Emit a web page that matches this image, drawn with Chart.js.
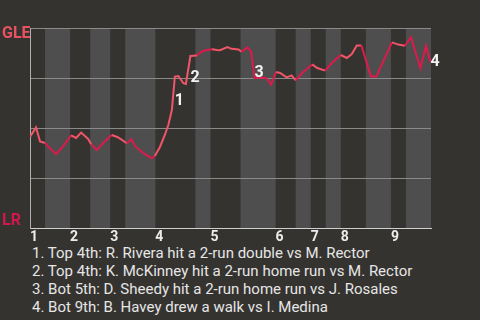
<!DOCTYPE html>
<html>
<head>
<meta charset="utf-8">
<script src="https://cdn.jsdelivr.net/npm/chart.js@4"></script>
<style>
  html, body { margin: 0; padding: 0; background: #353330; width: 480px; height: 320px; overflow: hidden; }
  #wrap { position: relative; width: 480px; height: 244px; }
  #notas { font: 15px Roboto, sans-serif; color: #e6e6e6; line-height: 18px; padding-left: 32px; }
</style>
</head>
<body>
<div id="wrap"><canvas id="graficoWP"></canvas></div>
<div id="notas"></div>
<script>
// limites de cada media entrada, en jugadas (alta, baja, alta, baja...)
const mediasEntradas = [0, 3, 8, 12, 16, 19, 25, 33, 36, 42, 49, 53, 56, 59, 62, 67, 72, 75, 80];
const entradas = ["1", "2", "3", "4", "5", "6", "7", "8", "9"];

// jugada y probabilidad de victoria de GLE
const jugadas = [
  0, 1.2, 2.0, 3.0, 4.0, 5.2, 6.6, 8.2, 9.2, 10.2, 11.6, 12.2, 13.3, 14.8, 16.3, 17.4,
  18.2, 19.3, 20.2, 21.0, 22.7, 24.3, 24.9, 25.9, 26.9, 27.6, 28.3, 28.9, 29.6, 30.6,
  31.1, 32.0, 33.3, 34.3, 35.3, 36.3, 37.3, 37.9, 39.4, 40.2, 41.6, 42.2, 43.4, 44.1,
  44.8, 45.7, 47.1, 48.1, 49.1, 49.9, 51.2, 52.2, 53.0, 54.3, 56.3, 57.3, 58.9, 60.2,
  62.0, 63.2, 64.2, 65.2, 66.1, 68.0, 69.1, 72.2, 73.5, 74.8, 76.0, 77.9, 79.0, 79.9
];
const probGLE = [
  0.455, 0.503, 0.433, 0.425, 0.398, 0.37, 0.408, 0.463, 0.45, 0.477, 0.445, 0.419, 0.39, 0.43, 0.465, 0.455,
  0.443, 0.424, 0.444, 0.408, 0.373, 0.349, 0.36, 0.404, 0.465, 0.515, 0.59, 0.757, 0.76, 0.724,
  0.72, 0.86, 0.863, 0.883, 0.89, 0.894, 0.89, 0.889, 0.905, 0.896, 0.893, 0.881, 0.903, 0.883,
  0.749, 0.753, 0.75, 0.718, 0.78, 0.775, 0.753, 0.763, 0.738, 0.775, 0.818, 0.8, 0.787, 0.825,
  0.865, 0.85, 0.87, 0.913, 0.913, 0.758, 0.758, 0.928, 0.917, 0.911, 0.954, 0.799, 0.91, 0.83
];

// jugadas destacadas (indice en las series) y sus textos
const destacadas = [27, 31, 44, 71];
const notas = [
  "1. Top 4th: R. Rivera hit a 2-run double vs M. Rector",
  "2. Top 4th: K. McKinney hit a 2-run home run vs M. Rector",
  "3. Bot 5th: D. Sheedy hit a 2-run home run vs J. Rosales",
  "4. Bot 9th: B. Havey drew a walk vs I. Medina",
];

document.getElementById("notas").innerHTML = notas.map((n) => "<div>" + n + "</div>").join("");

const inicioEntradas = mediasEntradas.filter((v, i) => i % 2 === 0 && i < mediasEntradas.length - 1);

function mediaDe(x) {
  let h = 0;
  while (h < mediasEntradas.length - 2 && x >= mediasEntradas[h + 1]) h++;
  return h;
}

const bandas = {
  id: "bandas",
  beforeDraw(chart) {
    const { ctx, chartArea: a, scales: { x } } = chart;
    ctx.save();
    ctx.fillStyle = "#4e4e4e";
    for (let h = 1; h < mediasEntradas.length - 1; h += 2) {
      const x0 = x.getPixelForValue(mediasEntradas[h]);
      const x1 = x.getPixelForValue(mediasEntradas[h + 1]);
      ctx.fillRect(x0, a.top, x1 - x0, a.bottom - a.top);
    }
    ctx.restore();
  },
};

const marcas = {
  id: "marcas",
  afterDatasetsDraw(chart) {
    const { ctx } = chart;
    const pts = chart.getDatasetMeta(0).data;
    ctx.save();
    ctx.fillStyle = "#f2f2f2";
    ctx.font = "bold 16px Roboto";
    ctx.textAlign = "left";
    ctx.textBaseline = "top";
    destacadas.forEach((i, n) => {
      const p = pts[i];
      const q = pts[i - 1];
      ctx.fillText(String(n + 1), p.x, (p.y + q.y) / 2);
    });
    ctx.restore();
  },
};

const ctxWP = document.getElementById("graficoWP");

new Chart(ctxWP, {
  type: "line",
  data: {
    datasets: [
      {
        data: jugadas.map((x, i) => ({ x: x, y: probGLE[i] })),
        borderColor: "#ef5668",
        borderWidth: 2,
        pointRadius: 0,
        tension: 0,
        segment: {
          borderColor: (c) =>
            mediaDe((c.p0.parsed.x + c.p1.parsed.x) / 2) % 2 === 0 ? "#ef5668" : "#dc1a4c",
        },
      },
    ],
  },
  options: {
    responsive: true,
    maintainAspectRatio: false,
    animation: false,
    layout: { padding: { left: 2, top: 28, right: 49, bottom: 0 } },
    plugins: {
      legend: { display: false },
      tooltip: { enabled: false },
    },
    scales: {
      x: {
        type: "linear",
        min: 0,
        max: 80,
        afterBuildTicks: (s) => {
          s.ticks = inicioEntradas.map((v) => ({ value: v }));
        },
        afterFit: (s) => {
          s.height = 16;
        },
        grid: { display: false, drawTicks: false },
        border: { color: "#cfcfcf", width: 1 },
        ticks: {
          align: "start",
          padding: 1,
          color: "#ececec",
          font: { family: "Roboto", size: 14, weight: "bold" },
          callback: (v, i) => entradas[i],
        },
      },
      y: {
        min: 0,
        max: 1,
        afterBuildTicks: (s) => {
          s.ticks = [0.035, 0.25, 0.5, 0.75, 0.968, 1].map((v) => ({ value: v }));
        },
        afterFit: (s) => {
          s.width = 28;
        },
        grid: {
          drawTicks: false,
          color: (c) => ([0.25, 0.5, 0.75, 1].includes(c.tick.value) ? "#8a8a8a" : "transparent"),
        },
        border: { color: "#b0b0b0", width: 1 },
        ticks: {
          crossAlign: "far",
          padding: 0,
          font: { family: "Roboto", size: 16, weight: "bold" },
          color: (c) => (c.tick.value > 0.5 ? "#ea5262" : "#d3174a"),
          callback: (v) => (v === 0.968 ? "GLE" : v === 0.035 ? "LR" : ""),
        },
      },
    },
  },
  plugins: [bandas, marcas],
});
</script>
</body>
</html>
